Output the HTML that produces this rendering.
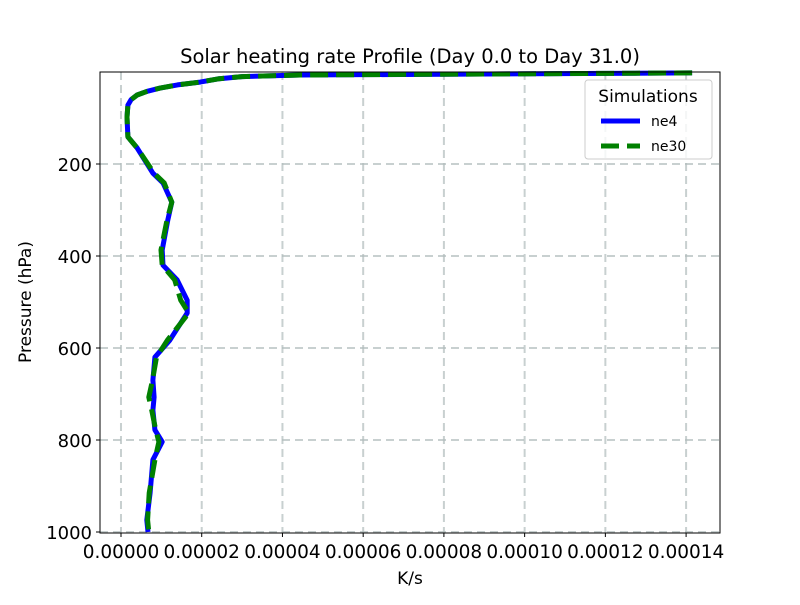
<!DOCTYPE html>
<html><head><meta charset="utf-8"><style>
body{margin:0;background:#fff;}
svg text{font-family:"DejaVu Sans","Liberation Sans",sans-serif;}
</style></head><body>
<svg id="c" width="800" height="600" xmlns="http://www.w3.org/2000/svg">
<rect width="800" height="600" fill="#fff"/>
<text x="410" y="63" font-size="19.5" text-anchor="middle">Solar heating rate Profile (Day 0.0 to Day 31.0)</text>
<g id="grid"></g>
<g id="series"></g>
<rect x="100" y="72" width="620" height="461" fill="none" stroke="#000" stroke-width="1"/>
<g id="axes"></g>
<text x="410" y="584" font-size="17" text-anchor="middle">K/s</text>
<text transform="translate(31,302) rotate(-90)" font-size="17" text-anchor="middle">Pressure (hPa)</text>
<g>
<rect x="585" y="80" width="127" height="79" rx="3" fill="#fff" fill-opacity="0.8" stroke="#ccc"/>
<text x="648" y="102" font-size="17" text-anchor="middle">Simulations</text>
<line x1="601" y1="121" x2="640" y2="121" stroke="#0000ff" stroke-width="5"/>
<text x="651" y="126" font-size="14">ne4</text>
<line x1="601" y1="146" x2="640" y2="146" stroke="#008000" stroke-width="5" stroke-dasharray="18,8"/>
<text x="651" y="151" font-size="14">ne30</text>
</g>
</svg>
<script>
const pressure = [2,6.5,10,15,22,28,35,42,50,60,72,98,141,165,220,241,283,322,387,420,452,496,524,583,620,670,707,735,778,804,843,915,974,1000];
const ne4 = [1.415e-4,4.44e-5,3.0e-5,2.4e-5,1.96e-5,1.4e-5,9.7e-6,6.5e-6,4.0e-6,2.5e-6,1.7e-6,1.5e-6,1.7e-6,4.0e-6,7.9e-6,1.04e-5,1.26e-5,1.16e-5,1.02e-5,1.04e-5,1.39e-5,1.64e-5,1.64e-5,1.21e-5,8.4e-6,7.9e-6,8.2e-6,7.9e-6,8.4e-6,1.02e-5,7.9e-6,7.2e-6,6.4e-6,6.7e-6];
const ne30 = [1.415e-4,4.44e-5,3.0e-5,2.4e-5,1.96e-5,1.4e-5,9.7e-6,6.5e-6,4.0e-6,2.5e-6,1.7e-6,1.5e-6,1.7e-6,4.0e-6,8.2e-6,1.07e-5,1.26e-5,1.14e-5,9.9e-6,1.02e-5,1.33e-5,1.48e-5,1.68e-5,1.15e-5,8.8e-6,7.8e-6,6.9e-6,7.6e-6,8.6e-6,9.4e-6,8.4e-6,7.0e-6,6.6e-6,6.9e-6];
const xTicks = [0,0.00002,0.00004,0.00006,0.00008,0.0001,0.00012,0.00014];
const xTickLabels = ["0.00000","0.00002","0.00004","0.00006","0.00008","0.00010","0.00012","0.00014"];
const yTicks = [200,400,600,800,1000];
const yTickLabels = ["200","400","600","800","1000"];

const X0=100,X1=720,Y0=72,Y1=533;
const xMin=-0.0000052,xMax=0.0001484,pMin=0,pMax=1000;
const sx=v=>X0+(v-xMin)/(xMax-xMin)*(X1-X0);
const sy=p=>Y0+(p-pMin)/(pMax-pMin)*(Y1-Y0-1);
const NS="http://www.w3.org/2000/svg";
function mk(tag,attrs,parent){const e=document.createElementNS(NS,tag);for(const k in attrs)e.setAttribute(k,attrs[k]);parent.appendChild(e);return e;}
const grid=document.getElementById('grid'),axes=document.getElementById('axes'),series=document.getElementById('series');
xTicks.forEach((v,i)=>{
  const x=sx(v);
  const g=mk('line',{x1:x,y1:Y0,x2:x,y2:Y1,stroke:'#b0bcbc','stroke-width':2,'stroke-dasharray':'8,5','stroke-opacity':0.7},grid);
  
  
  const t=mk('line',{x1:x,y1:Y1,x2:x,y2:Y1+4,stroke:'#000'},axes);
  
  
  const l=mk('text',{x:x,y:Y1+25,'font-size':18.5,'text-anchor':'middle'},axes);
  l.textContent=xTickLabels[i];
  
  
});
yTicks.forEach((p,i)=>{
  const y=sy(p);
  const g=mk('line',{x1:X0,y1:y,x2:X1,y2:y,stroke:'#b0bcbc','stroke-width':2,'stroke-dasharray':'8,5','stroke-opacity':0.7},grid);
  
  
  const t=mk('line',{x1:X0-4,y1:y,x2:X0,y2:y,stroke:'#000'},axes);
  
  
  const l=mk('text',{x:X0-8,y:y+7,'font-size':18,'text-anchor':'end'},axes);
  l.textContent=yTickLabels[i];
  
  
});
function path(vals){return vals.map((v,i)=>(i?'L':'M')+sx(v).toFixed(1)+','+sy(pressure[i]).toFixed(1)).join(' ');}
const a=mk('path',{d:path(ne4),fill:'none',stroke:'#0000ff','stroke-width':5,'stroke-linejoin':'round'},series);


const b=mk('path',{d:path(ne30),fill:'none',stroke:'#008000','stroke-width':5,'stroke-dasharray':'18,8','stroke-linejoin':'round'},series);


</script>
</body></html>
